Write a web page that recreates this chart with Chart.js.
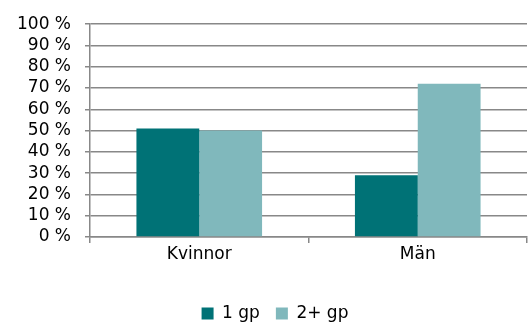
<!DOCTYPE html>
<html>
<head>
<meta charset="utf-8">
<script src="https://cdn.jsdelivr.net/npm/chart.js@4"></script>
<style>
  html, body { margin: 0; padding: 0; background: #fff; }
  #wrap { width: 528px; height: 322px; }
</style>
</head>
<body>
<div id="wrap"><canvas id="mycanvas" width="528" height="322"></canvas></div>
<script>
// data
var categories = ['Kvinnor', 'Män'];
var seriesNames = ['1 gp', '2+ gp'];
var oneGp = [51, 29];
var twoPlusGp = [50, 72];
var yTicks = [0, 10, 20, 30, 40, 50, 60, 70, 80, 90, 100];

var gridGrey = '#888888';
var fontStyle = { family: 'DejaVu Sans', size: 17 };

var chartdata = {
    labels: categories,
    datasets: [
        {
            label: seriesNames[0],
            backgroundColor: '#007276',
            data: oneGp
        },
        {
            label: seriesNames[1],
            backgroundColor: '#80b8bc',
            data: twoPlusGp
        }
    ]
};

// pull the legend box down so it sits near the bottom edge,
// and nudge it a little to the right like the original
var legendShift = {
    id: 'legendShift',
    beforeInit: function(chart) {
        var origFit = chart.legend.fit;
        chart.legend.fit = function() {
            origFit.call(this);
            this.height -= 10;
        };
        var origDraw = chart.legend.draw;
        chart.legend.draw = function() {
            var c = this.ctx;
            c.save();
            c.translate(10, 0);
            origDraw.call(this);
            c.restore();
        };
    }
};

var ctx = document.getElementById('mycanvas');

var barGraph = new Chart(ctx, {
    type: 'bar',
    data: chartdata,
    plugins: [legendShift],
    options: {
        responsive: false,
        animation: false,
        layout: { padding: { left: 3, top: 6, right: 1, bottom: 0 } },
        datasets: {
            bar: { categoryPercentage: 0.575, barPercentage: 1 }
        },
        scales: {
            x: {
                offset: true,
                grid: { drawOnChartArea: false, color: gridGrey, tickLength: 6, lineWidth: 1.5, offset: true },
                border: { color: gridGrey, width: 1.5 },
                ticks: { color: '#000', font: fontStyle, padding: 1 },
                afterFit: function(scale) { scale.height = 52; }
            },
            y: {
                min: 0,
                max: 100,
                afterBuildTicks: function(scale) {
                    scale.ticks = yTicks.map(function(v) { return { value: v }; });
                },
                grid: { color: gridGrey, lineWidth: 1.5, tickLength: 5 },
                border: { color: gridGrey, width: 1.5 },
                ticks: {
                    color: '#000',
                    font: fontStyle,
                    padding: 14,
                    autoSkip: false,
                    callback: function(v) { return v + ' %'; }
                }
            }
        },
        plugins: {
            tooltip: { enabled: false },
            legend: {
                position: 'bottom',
                labels: {
                    color: '#000',
                    font: fontStyle,
                    boxWidth: 12,
                    boxHeight: 12,
                    padding: 16
                }
            }
        }
    }
});
</script>
</body>
</html>
